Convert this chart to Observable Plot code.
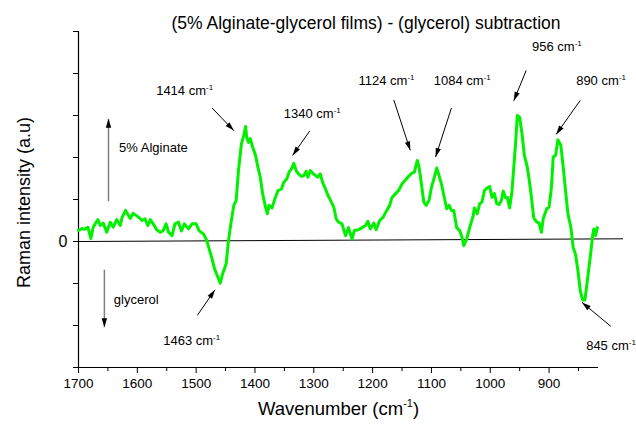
<!DOCTYPE html>
<html><head><meta charset="utf-8">
<script src="https://cdn.jsdelivr.net/npm/d3@7"></script>
<script src="https://cdn.jsdelivr.net/npm/@observablehq/plot@0.6"></script>
<style>body{margin:0;background:#fff} #chart svg{display:block;overflow:visible}</style>
</head><body><div id="chart"></div>
<script>
// Spectrum (wavenumber, cm-1) and difference intensity (a.u.)
const wavenumber = [
1700,1694,1689,1684,1679,1675,1667,1663,1658,1652,
1646,1641,1635,1629,1626,1620,1615,1612,1607,1598,
1592,1587,1582,1578,1573,1567,1561,1556,1551,1547,
1541,1536,1530,1525,1520,1513,1507,1500,1495,1487,
1482,1478,1473,1469,1463,1459,1455,1449,1445,1441,
1436,1432,1428,1423,1419,1416,1414,1411,1408,1404,
1399,1395,1391,1387,1382,1379,1376,1371,1367,1361,
1355,1351,1346,1342,1338,1334,1330,1326,1321,1317,
1313,1310,1306,1302,1297,1293,1289,1285,1280,1276,
1272,1266,1262,1258,1252,1246,1241,1235,1231,1224,
1218,1212,1208,1204,1198,1194,1188,1182,1176,1171,
1167,1161,1156,1150,1144,1139,1133,1129,1124,1121,
1117,1113,1109,1104,1100,1095,1091,1087,1083,1079,
1074,1070,1066,1062,1057,1052,1048,1045,1040,1035,
1029,1027,1022,1018,1014,1010,1005,1001,997,993,
989,985,981,978,974,971,967,963,960,957,
954,950,946,942,937,934,930,926,921,917,
913,910,904,900,896,893,889,885,880,876,
872,868,863,859,855,851,847,843,839,835,
830,826,824,821,818];
const intensity = [
0.26,0.31,0.29,0.34,0.07,0.34,0.52,0.38,0.44,0.22,
0.46,0.34,0.52,0.38,0.57,0.74,0.62,0.55,0.67,0.58,
0.50,0.54,0.38,0.52,0.42,0.28,0.22,0.26,0.42,0.22,
0.14,0.42,0.46,0.25,0.42,0.30,0.42,0.42,0.26,0.17,
0.02,-0.17,-0.41,-0.64,-0.85,-0.99,-0.77,-0.53,0.02,0.42,
0.86,0.98,1.69,2.33,2.52,2.74,2.48,2.36,2.45,2.25,
2.05,1.77,1.53,1.14,0.82,0.66,0.86,0.80,0.98,1.21,
1.25,1.41,1.49,1.65,1.73,1.86,1.69,1.61,1.55,1.57,
1.67,1.53,1.69,1.63,1.57,1.53,1.61,1.41,1.25,1.10,
0.99,0.82,0.54,0.46,0.42,0.14,0.33,0.06,0.26,0.28,
0.33,0.38,0.48,0.30,0.44,0.28,0.50,0.58,0.74,0.86,
1.05,1.14,1.21,1.37,1.47,1.55,1.63,1.65,1.93,1.77,
1.37,0.94,0.86,0.98,1.29,1.53,1.75,1.57,1.37,1.10,
0.78,0.86,0.74,0.74,0.33,0.26,0.10,-0.10,0.06,0.33,
0.62,0.80,0.66,0.90,0.94,1.21,1.28,1.31,1.05,1.14,
0.90,0.88,0.98,1.20,1.04,1.05,0.80,1.21,1.77,2.33,
3.00,2.96,2.56,2.05,1.77,1.49,1.05,0.56,0.46,0.44,
0.22,0.54,0.78,0.82,1.29,2.01,2.05,2.42,2.29,1.77,
1.21,0.66,0.34,-0.14,-0.31,-0.69,-1.17,-1.39,-1.39,-0.93,
-0.37,0.14,0.30,0.14,0.33];

// Axes
const xMajorTicks = [1700,1600,1500,1400,1300,1200,1100,1000,900];
const xMinorTicks = [1650,1550,1450,1350,1250,1150,1050,950,850];
const yTicks = [-3,-2,-1,0,1,2,3,4,5];
const baselineX = [1700, 775];
const baselineY = [0, 0.064];

// Peak annotations
const peakLabels = ["1414 cm⁻¹","1340 cm⁻¹","1124 cm⁻¹","1084 cm⁻¹","956 cm⁻¹","890 cm⁻¹","1463 cm⁻¹","845 cm⁻¹"];
const labelX = [1568, 1351, 1224, 1096, 929, 854, 1556, 837];
const labelY = [3.58, 3.04, 3.82, 3.82, 4.63, 3.82, -2.36, -2.48];
const tailX = [1473, 1307, 1164, 1066, 939, 847, 1498, 795];
const tailY = [3.18, 2.63, 3.37, 3.18, 4.07, 3.36, -1.76, -2.02];
const headX = [1436, 1336, 1136, 1093, 960, 888, 1468, 844];
const headY = [2.64, 2.05, 2.17, 2.01, 3.35, 2.55, -1.15, -1.45];

// Direction labels
const sideLabels = ["5% Alginate", "glycerol"];
const sideX = [1631, 1640];
const sideY = [2.23, -1.40];
const sideArrowX = [1649, 1656];
const sideTailY = [0.96, -0.67];
const sideHeadY = [2.92, -2.04];

const titleText = "(5% Alginate-glycerol films) - (glycerol) subtraction";
const xLabel = "Wavenumber (cm⁻¹)";
const yLabel = "Raman intensity (a.u)";

const headSymbol = {draw(ctx) { ctx.moveTo(0, 0); ctx.lineTo(2.7, 9); ctx.lineTo(-2.7, 9); ctx.closePath(); }};
const idx = d3.range(peakLabels.length);
const sIdx = d3.range(sideLabels.length);

function build(rotPeak, rotSide) {
  return Plot.plot({
    width: 636, height: 427,
    marginLeft: 78, marginRight: 38, marginTop: 31, marginBottom: 60,
    style: {fontFamily: "'Liberation Sans', Arial, sans-serif", background: "#fff", color: "#000", overflow: "visible"},
    x: {domain: [1700, 816]},
    y: {domain: [-3, 5]},
    marks: [
      Plot.axisX({ticks: xMinorTicks, tickSize: 4, tickFormat: () => "", label: null}),
      Plot.axisX({ticks: xMajorTicks, tickSize: 6, tickPadding: 5, fontSize: 13.5, label: null, tickFormat: d => String(d)}),
      Plot.axisY({ticks: yTicks, tickSize: 5, tickPadding: 6, fontSize: 16, label: null, tickFormat: d => d === 0 ? "0" : ""}),
      Plot.ruleX([1700], {y1: -3, y2: 5, stroke: "#000", strokeWidth: 1.2}),
      Plot.ruleY([-3], {stroke: "#000", strokeWidth: 1.2}),
      Plot.line(baselineX, {x: d => d, y: (d, i) => baselineY[i], stroke: "#000", strokeWidth: 1}),
      Plot.line(wavenumber, {x: d => d, y: (d, i) => intensity[i], stroke: "#00f000", strokeWidth: 3, strokeLinejoin: "round"}),
      Plot.link(sIdx, {x1: i => sideArrowX[i], y1: i => sideTailY[i], x2: i => sideArrowX[i], y2: i => sideHeadY[i], stroke: "#808080", strokeWidth: 1.5}),
      Plot.dot(sIdx, {x: i => sideArrowX[i], y: i => sideHeadY[i], symbol: headSymbol, fill: "#000", stroke: null, r: 4, rotate: i => rotSide[i]}),
      Plot.text(sIdx, {x: i => sideX[i], y: i => sideY[i], text: i => sideLabels[i], textAnchor: "start", fontSize: 13, fill: "#000"}),
      Plot.link(idx, {x1: i => tailX[i], y1: i => tailY[i], x2: i => headX[i], y2: i => headY[i], stroke: "#000", strokeWidth: 1}),
      Plot.dot(idx, {x: i => headX[i], y: i => headY[i], symbol: headSymbol, fill: "#000", stroke: null, r: 4, rotate: i => rotPeak[i]}),
      Plot.text(idx, {x: i => labelX[i], y: i => labelY[i], text: i => peakLabels[i], textAnchor: "start", fontSize: 13, fill: "#000"}),
      Plot.text([titleText], {frameAnchor: "top-left", dx: 93, dy: -15, textAnchor: "start", fontSize: 17.5, fill: "#000"}),
      Plot.text([xLabel], {frameAnchor: "bottom", dy: 47, textAnchor: "middle", fontSize: 18.5, fill: "#000"}),
      Plot.text([yLabel], {frameAnchor: "left", dx: -54, dy: 3, rotate: -90, textAnchor: "middle", fontSize: 18, fill: "#000"})
    ]
  });
}

const p0 = build(idx.map(() => 0), sIdx.map(() => 0));
const sx = p0.scale("x"), sy = p0.scale("y");
const angle = (x1, y1, x2, y2) => {
  const dx = sx.apply(x2) - sx.apply(x1), dy = sy.apply(y2) - sy.apply(y1);
  return Math.atan2(dx, -dy) * 180 / Math.PI;
};
const rotPeak = idx.map(i => angle(tailX[i], tailY[i], headX[i], headY[i]));
const rotSide = sIdx.map(i => angle(sideArrowX[i], sideTailY[i], sideArrowX[i], sideHeadY[i]));
const chart = build(rotPeak, rotSide);

// superscript "-1"
const NS = "http://www.w3.org/2000/svg";
chart.querySelectorAll("text").forEach(t => {
  if (!t.textContent.includes("⁻¹") || t.querySelector("tspan")) return;
  const g = t.closest("[font-size]");
  const fs = parseFloat(t.getAttribute("font-size")) || (g ? parseFloat(g.getAttribute("font-size")) : 13) || 13;
  const parts = t.textContent.split("⁻¹");
  const shift = Math.round(fs * 0.42);
  t.textContent = parts[0];
  const sup = document.createElementNS(NS, "tspan");
  sup.setAttribute("dy", -shift);
  sup.setAttribute("font-size", Math.round(fs * 0.62));
  sup.textContent = "-1";
  t.appendChild(sup);
  if (parts[1]) {
    const rest = document.createElementNS(NS, "tspan");
    rest.setAttribute("dy", shift);
    rest.textContent = parts[1];
    t.appendChild(rest);
  }
});
document.getElementById("chart").appendChild(chart);
</script>
</body></html>
